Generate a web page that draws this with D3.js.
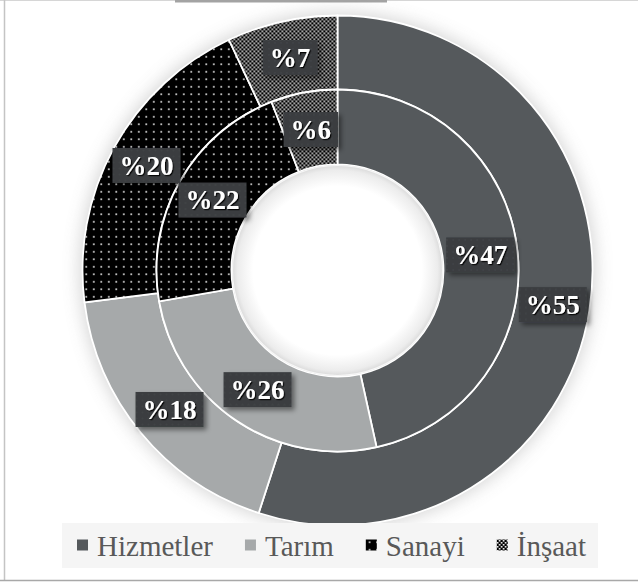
<!DOCTYPE html>
<html>
<head>
<meta charset="utf-8">
<script src="https://cdn.jsdelivr.net/npm/d3@7"></script>
<style>
  html, body { margin: 0; padding: 0; background: #ffffff; }
  svg { display: block; }
  .serif { font-family: "Liberation Serif", "Times New Roman", Times, serif; }
</style>
</head>
<body>
<div id="chart"></div>
<script>
// Sector shares, two rings (outer and inner), in percent
const categories = ["Hizmetler", "Tarım", "Sanayi", "İnşaat"];
const outerValues = [55, 18, 20, 7];
const innerValues = [47, 26, 22, 6];
const labelPrefix = "%";

const W = 638, H = 586;
const cx = 337.5, cy = 270.5;
const rHole = 106, rMid = 181, rOuter = 255;

const svg = d3.select("#chart").append("svg")
  .attr("width", W).attr("height", H);
const defs = svg.append("defs");

// Fill patterns
const pDots = defs.append("pattern").attr("id", "dots")
  .attr("width", 7.5).attr("height", 7.5).attr("patternUnits", "userSpaceOnUse");
pDots.append("rect").attr("width", 7.5).attr("height", 7.5).attr("fill", "#000");
pDots.append("rect").attr("x", 3).attr("y", 3).attr("width", 1.6).attr("height", 1.6).attr("fill", "#f4f4f4");

const pCheck = defs.append("pattern").attr("id", "check")
  .attr("width", 4).attr("height", 4).attr("patternUnits", "userSpaceOnUse");
pCheck.append("rect").attr("width", 4).attr("height", 4).attr("fill", "#000");
pCheck.append("rect").attr("x", 0).attr("y", 0).attr("width", 1.6).attr("height", 1.6).attr("fill", "#fff");
pCheck.append("rect").attr("x", 2).attr("y", 2).attr("width", 1.6).attr("height", 1.6).attr("fill", "#fff");

const pBox = defs.append("pattern").attr("id", "boxdots")
  .attr("width", 6).attr("height", 6).attr("patternUnits", "userSpaceOnUse");
pBox.append("rect").attr("width", 6).attr("height", 6).attr("fill", "#3a3d40");
pBox.append("rect").attr("x", 2.5).attr("y", 2.5).attr("width", 1).attr("height", 1).attr("fill", "#4d5155");

// Filters
const fGlow = defs.append("filter").attr("id", "glow")
  .attr("x", "-20%").attr("y", "-20%").attr("width", "140%").attr("height", "140%");
fGlow.append("feGaussianBlur").attr("stdDeviation", 9);

const fShadow = defs.append("filter").attr("id", "boxshadow")
  .attr("x", "-30%").attr("y", "-30%").attr("width", "160%").attr("height", "170%");
fShadow.append("feDropShadow").attr("dx", 3).attr("dy", 3).attr("stdDeviation", 2.5)
  .attr("flood-color", "#000").attr("flood-opacity", 0.45);

const fText = defs.append("filter").attr("id", "textshadow")
  .attr("x", "-20%").attr("y", "-20%").attr("width", "140%").attr("height", "140%");
fText.append("feDropShadow").attr("dx", 1.2).attr("dy", 1.2).attr("stdDeviation", 0.6)
  .attr("flood-color", "#000").attr("flood-opacity", 0.9);

const holeGrad = defs.append("radialGradient").attr("id", "hole");
holeGrad.append("stop").attr("offset", "0%").attr("stop-color", "#ffffff");
holeGrad.append("stop").attr("offset", "80%").attr("stop-color", "#ffffff");
holeGrad.append("stop").attr("offset", "95%").attr("stop-color", "#ececec");
holeGrad.append("stop").attr("offset", "100%").attr("stop-color", "#d9d9d9");

const fills = d3.scaleOrdinal()
  .domain(categories)
  .range(["#55595c", "#a6a9aa", "url(#dots)", "url(#check)"]);

// Frame lines
svg.append("line").attr("x1", 0).attr("x2", W).attr("y1", 0.5).attr("y2", 0.5)
  .attr("stroke", "#d6d6d6").attr("stroke-width", 1);
svg.append("rect").attr("x", 175).attr("y", 0).attr("width", 212).attr("height", 2.5)
  .attr("fill", "#a3a3a3");
svg.append("line").attr("x1", 4.5).attr("x2", 4.5).attr("y1", 0).attr("y2", 581)
  .attr("stroke", "#c4c4c4").attr("stroke-width", 1.5);
svg.append("line").attr("x1", 0).attr("x2", W).attr("y1", 580.5).attr("y2", 580.5)
  .attr("stroke", "#a8a8a8").attr("stroke-width", 1.5);

const g = svg.append("g").attr("transform", `translate(${cx},${cy})`);

// Soft shadow around the doughnut
g.append("circle").attr("r", rOuter + 2).attr("fill", "#9a9a9a")
  .attr("opacity", 0.45).attr("filter", "url(#glow)");

const pie = d3.pie().sort(null).value(d => d.value)
  .startAngle(0).endAngle(2 * Math.PI);

const outerData = pie(categories.map((c, i) => ({ cat: c, value: outerValues[i] })));
const innerData = pie(categories.map((c, i) => ({ cat: c, value: innerValues[i] })));

const arcOuter = d3.arc().innerRadius(rMid).outerRadius(rOuter);
const arcInner = d3.arc().innerRadius(rHole).outerRadius(rMid);

g.selectAll("path.outer").data(outerData).join("path")
  .attr("class", "outer")
  .attr("d", arcOuter)
  .attr("fill", d => fills(d.data.cat))
  .attr("stroke", "#ffffff").attr("stroke-width", 1.8);

g.selectAll("path.inner").data(innerData).join("path")
  .attr("class", "inner")
  .attr("d", arcInner)
  .attr("fill", d => fills(d.data.cat))
  .attr("stroke", "#ffffff").attr("stroke-width", 1.8);

// Hole with soft inner shading
g.append("circle").attr("r", rHole - 0.5).attr("fill", "url(#hole)");
g.append("circle").attr("r", rHole - 1).attr("fill", "none")
  .attr("stroke", "#f6f6f6").attr("stroke-width", 1.2);

// Data labels
function drawLabels(data, arcGen) {
  const lg = g.append("g");
  data.forEach(d => {
    const [x, y] = arcGen.centroid(d);
    const item = lg.append("g").attr("transform", `translate(${x},${y})`);
    const rect = item.append("rect").attr("fill", "url(#boxdots)")
      .attr("filter", "url(#boxshadow)");
    const t = item.append("text")
      .attr("class", "serif")
      .attr("text-anchor", "middle")
      .attr("dy", "0.35em")
      .attr("font-weight", "bold")
      .attr("font-size", 27)
      .attr("fill", "#ffffff")
      .attr("filter", "url(#textshadow)")
      .text(labelPrefix + d.data.value);
    const bb = t.node().getBBox();
    const bw = bb.width + 14, bh = 35;
    rect.attr("x", -bw / 2).attr("y", -bh / 2).attr("width", bw).attr("height", bh);
  });
}
drawLabels(outerData, arcOuter);
drawLabels(innerData, arcInner);

// Legend
const legendG = svg.append("g");
legendG.append("rect").attr("x", 62).attr("y", 523).attr("width", 536).attr("height", 45)
  .attr("fill", "#f5f5f5");

const items = legendG.append("g");
let xpos = 0;
const sw = 11, gapText = 9, gapItem = 32;
categories.forEach((c, i) => {
  const it = items.append("g").attr("transform", `translate(${xpos},0)`);
  it.append("rect").attr("x", 0).attr("y", -sw / 2 - 1).attr("width", sw).attr("height", sw)
    .attr("fill", fills(c));
  const t = it.append("text")
    .attr("class", "serif")
    .attr("x", sw + gapText)
    .attr("dy", "0.35em")
    .attr("font-size", 29)
    .attr("fill", "#595959")
    .text(c);
  xpos += sw + gapText + t.node().getComputedTextLength() + gapItem;
});
const totalW = xpos - gapItem;
items.attr("transform", `translate(${331.5 - totalW / 2},546)`);
</script>
</body>
</html>
